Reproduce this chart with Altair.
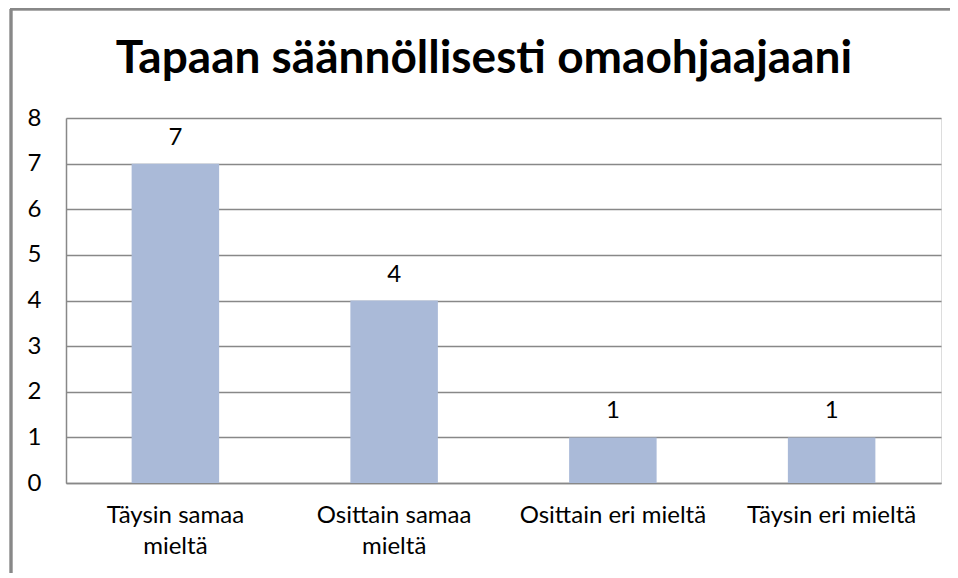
import altair as alt
import pandas as pd

title_text = "Tapaan säännöllisesti omaohjaajaani"
categories = ["Täysin samaa mieltä", "Osittain samaa mieltä", "Osittain eri mieltä", "Täysin eri mieltä"]
label_lines = [["Täysin samaa", "mieltä"], ["Osittain samaa", "mieltä"], ["Osittain eri mieltä"], ["Täysin eri mieltä"]]
values = [7, 4, 1, 1]
y_ticks = [0, 1, 2, 3, 4, 5, 6, 7, 8]

df = pd.DataFrame({"cat": categories, "val": values})

# build multi-line label expression
expr = "datum.label"
for c, lines in zip(reversed(categories), reversed(label_lines)):
    arr = "[" + ",".join("'" + l + "'" for l in lines) + "]"
    expr = f"datum.label == '{c}' ? {arr} : ({expr})"

FONT = "Lato"
GRID = "#888888"
BAR = "#AABAD8"
FS = 24

base = alt.Chart(df).encode(
    x=alt.X("cat:N", sort=categories, title=None,
            scale=alt.Scale(paddingInner=0.6, paddingOuter=0.3),
            axis=alt.Axis(labelAngle=0, labelExpr=expr, labelFont=FONT, labelFontSize=FS,
                          labelColor="#000000", labelPadding=20, labelLineHeight=31,
                          labelBaseline="top", labelLimit=0,
                          ticks=False, domain=True, domainColor=GRID, domainWidth=1.5,
                          grid=False)),
    y=alt.Y("val:Q", title=None,
            scale=alt.Scale(domain=[0, 8], nice=False),
            axis=alt.Axis(values=y_ticks, labelFont=FONT, labelFontSize=FS, labelColor="#000000",
                          labelPadding=25, ticks=False, domain=True, domainColor=GRID,
                          domainWidth=1.5, grid=True, gridColor=GRID, gridWidth=1.5)),
)

bars = base.mark_bar(color=BAR)
texts = base.mark_text(font=FONT, fontSize=FS, color="#000000", dy=-19, baseline="alphabetic").encode(
    text=alt.Text("val:Q"))

title_mark = alt.Chart(pd.DataFrame({"t": [title_text]})).mark_text(
    font=FONT, fontSize=46, fontWeight="bold", color="#000000", align="center",
    baseline="alphabetic").encode(x=alt.value(418), y=alt.value(-45), text="t:N")

border_left = alt.Chart(df).mark_rule(color=GRID, strokeWidth=2.5).encode(
    x=alt.value(-55), y=alt.value(-109), y2=alt.value(480))
border_top = alt.Chart(df).mark_rule(color=GRID, strokeWidth=2.5).encode(
    x=alt.value(-56), x2=alt.value(900), y=alt.value(-109))

chart = alt.layer(bars, texts, title_mark, border_left, border_top).properties(
    width=875, height=365,
    autosize=alt.AutoSizeParams(type="none"),
    padding={"left": 58, "top": 110, "right": 9, "bottom": 90},
).configure_view(stroke=None).configure(background="#ffffff")

chart.save("out.html", embed_options={"renderer": "svg", "actions": False})
